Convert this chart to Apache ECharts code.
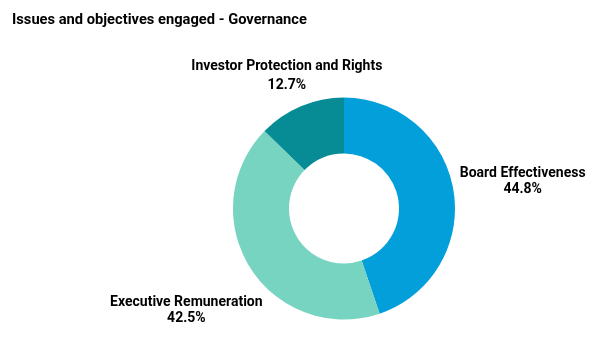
<!DOCTYPE html>
<html>
<head>
<meta charset="utf-8">
<script src="https://cdn.jsdelivr.net/npm/echarts@6/dist/echarts.min.js"></script>
<style>html,body{margin:0;padding:0;background:#fff}#c{width:604px;height:354px}</style>
</head>
<body>
<div id="c"></div>
<script>
const titleText = 'Issues and objectives engaged - Governance';
const categories = ['Board Effectiveness', 'Executive Remuneration', 'Investor Protection and Rights'];
const values = [44.8, 42.5, 12.7];
const colors = ['#039FDA', '#76D4C1', '#078C96'];
const labelLineHeights = [16, 16, 19];

const CX = 344, CY = 208.5, R_IN = 55, R_OUT = 111, GAP = 5.5, LABEL_DY = 2.5;
const total = values.reduce((a, b) => a + b, 0);

const chart = echarts.init(document.getElementById('c'), null, {renderer: 'canvas'});

function labelPos(i, w, h) {
  let cum = 0;
  for (let k = 0; k < i; k++) cum += values[k];
  const ang = (90 - (cum + values[i] / 2) / total * 360) * Math.PI / 180;
  const ux = Math.cos(ang), uy = -Math.sin(ang);
  const hw = w / 2, hh = h / 2;
  const target = R_OUT + GAP;
  let lo = 0, hi = 600;
  for (let it = 0; it < 60; it++) {
    const t = (lo + hi) / 2;
    const dx = Math.max(0, Math.abs(t * ux) - hw);
    const dy = Math.max(0, Math.abs(t * uy) - hh);
    const d = Math.sqrt(dx * dx + dy * dy);
    if (d < target) lo = t; else hi = t;
  }
  const t = (lo + hi) / 2;
  return {x: CX + t * ux, y: CY + t * uy + LABEL_DY};
}

chart.setOption({
  animation: false,
  title: {
    text: titleText,
    left: 7,
    top: 8,
    textStyle: {fontFamily: 'Roboto', fontWeight: 'bold', fontSize: 14.7, color: '#000'}
  },
  series: [{
    type: 'pie',
    center: [CX, CY],
    radius: [R_IN, R_OUT],
    startAngle: 90,
    clockwise: true,
    avoidLabelOverlap: false,
    itemStyle: {borderWidth: 0},
    label: {
      show: true,
      position: 'outside',
      formatter: p => p.name + '\n' + p.value.toFixed(1) + '%',
      fontFamily: 'Roboto',
      fontWeight: 'bold',
      fontSize: 14,
      lineHeight: 16,
      color: '#000',
      align: 'center'
    },
    labelLine: {show: false},
    labelLayout: function (params) {
      const w = params.labelRect.width, h = params.labelRect.height;
      const p = labelPos(params.dataIndex, w, h);
      return {x: p.x, y: p.y, align: 'center', verticalAlign: 'middle'};
    },
    emphasis: {disabled: true},
    data: categories.map((c, i) => ({
      name: c,
      value: values[i],
      itemStyle: {color: colors[i]},
      label: {lineHeight: labelLineHeights[i]}
    }))
  }]
});
</script>
</body>
</html>
